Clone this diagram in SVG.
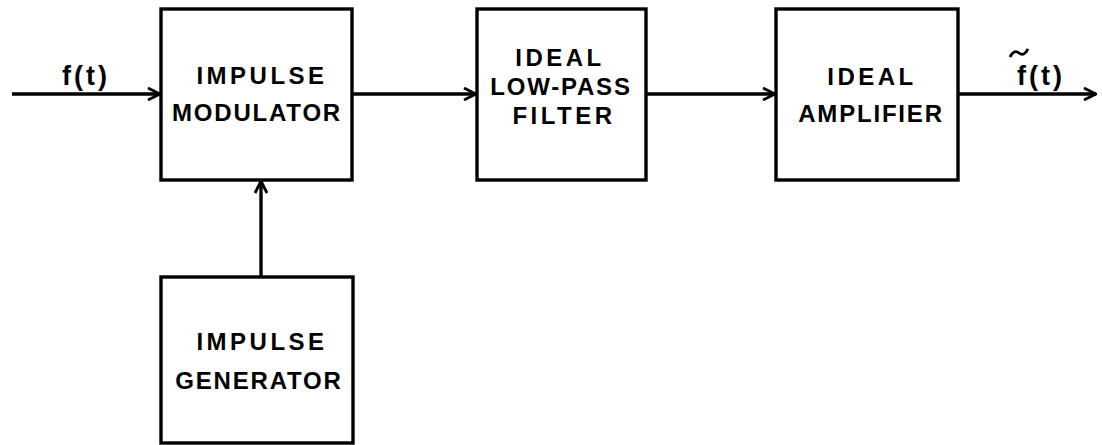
<svg xmlns="http://www.w3.org/2000/svg" width="1102" height="445" viewBox="0 0 1102 445">
<defs>
<style>
.box{fill:#fff;stroke:#000;stroke-width:3.4}
.wire{fill:none;stroke:#000;stroke-width:3.4}
.lbl{font-family:"Liberation Sans",Arial,sans-serif;font-weight:bold;font-size:24px;fill:#000;text-anchor:middle;letter-spacing:1.8px}
.wide{letter-spacing:3.5px}
.sig{font-family:"Liberation Sans",Arial,sans-serif;font-weight:bold;font-size:27px;fill:#000;text-anchor:middle;letter-spacing:3px}
</style>
<marker id="arr" viewBox="0 0 14 14" refX="13" refY="7" markerWidth="14" markerHeight="14" markerUnits="userSpaceOnUse" orient="auto">
<path d="M1,1 L13,7 L1,13" fill="none" stroke="#000" stroke-width="2.8"/>
</marker>
</defs>
<rect width="1102" height="445" fill="#fff"/>
<g id="connectors">
<line class="wire" x1="12" y1="94" x2="160" y2="94" marker-end="url(#arr)"/>
<line class="wire" x1="352" y1="94" x2="476" y2="94" marker-end="url(#arr)"/>
<line class="wire" x1="646" y1="94" x2="775" y2="94" marker-end="url(#arr)"/>
<line class="wire" x1="958" y1="94" x2="1096" y2="94" marker-end="url(#arr)"/>
<line class="wire" x1="261" y1="277" x2="261" y2="181" marker-end="url(#arr)"/>
<text class="sig" x="86" y="85">f(t)</text>
<text class="sig" x="1041" y="85">f(t)</text>
<path d="M1010,57 Q1014,49 1019,53 Q1024,57 1028,49" fill="none" stroke="#000" stroke-width="2.8"/>
</g>
<g id="modulator">
<rect class="box" x="161" y="9" width="191" height="171"/>
<text class="lbl wide" x="262" y="84">IMPULSE</text>
<text class="lbl" x="257" y="121">MODULATOR</text>
</g>
<g id="filter">
<rect class="box" x="477" y="9" width="169" height="171"/>
<text class="lbl wide" x="560" y="66">IDEAL</text>
<text class="lbl" x="561" y="95">LOW-PASS</text>
<text class="lbl wide" x="564" y="124">FILTER</text>
</g>
<g id="amplifier">
<rect class="box" x="776" y="9" width="182" height="171"/>
<text class="lbl wide" x="872" y="85">IDEAL</text>
<text class="lbl" x="871" y="122">AMPLIFIER</text>
</g>
<g id="generator">
<rect class="box" x="161" y="277" width="192" height="166"/>
<text class="lbl wide" x="262" y="350">IMPULSE</text>
<text class="lbl" x="259" y="389">GENERATOR</text>
</g>
</svg>
